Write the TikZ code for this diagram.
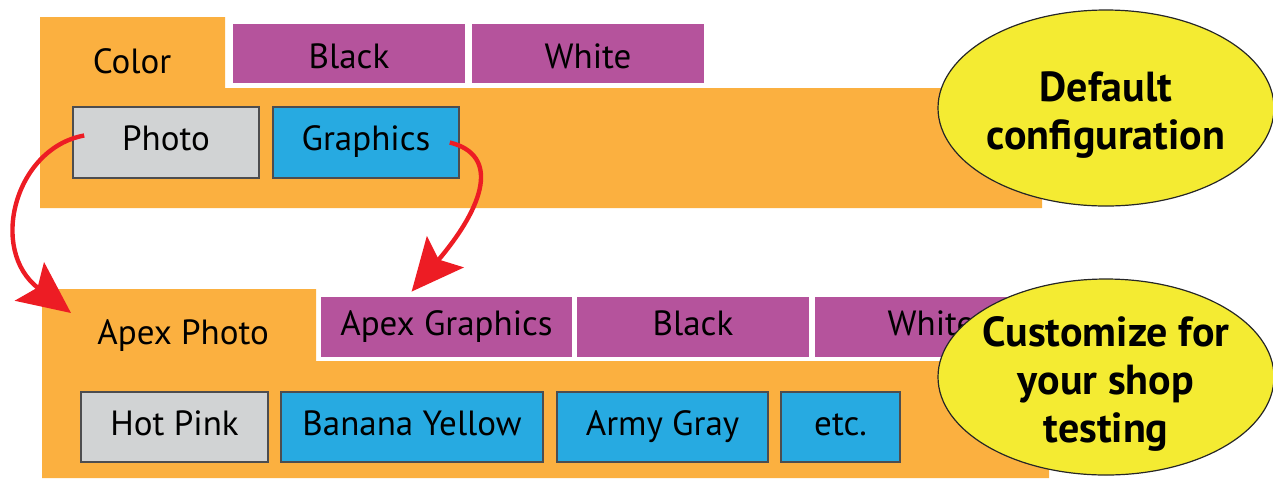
\documentclass[tikz,border=0pt]{standalone}
\usepackage{fontspec}
\setmainfont{PT Sans}
\usetikzlibrary{shapes.geometric, arrows.meta}
\definecolor{panelor}{HTML}{FBB040}
\definecolor{tabpl}{HTML}{B5539C}
\definecolor{optgray}{HTML}{D1D3D4}
\definecolor{optblue}{HTML}{27AAE1}
\definecolor{boxedge}{HTML}{4D4D4F}
\definecolor{noteyel}{HTML}{F4EB32}
\definecolor{linkred}{HTML}{ED1C24}

\begin{document}
\begin{tikzpicture}[x=0.5pt, y=-0.5pt,
  font=\fontsize{17.5}{20}\selectfont,
  lbl/.style={inner sep=0pt, text height=12pt, text depth=4pt},
  tab/.style={lbl, fill=tabpl, minimum width=116pt, minimum height=29.5pt},
  toptab/.style={tab, text height=16pt, text depth=1pt},
  opt/.style={lbl, draw=boxedge, line width=0.8pt, minimum height=35.5pt},
  note/.style={ellipse, draw=black!85, line width=0.6pt, fill=noteyel,
    minimum width=168pt, minimum height=98pt, inner xsep=-10pt, inner ysep=-6pt,
    align=center, font=\fontsize{21}{24}\bfseries\selectfont},
  link/.style={draw=linkred, line width=2.2pt,
    -{Stealth[length=26pt, width=24pt, inset=5pt]}}]
  \useasboundingbox (0,0) rectangle (1273,478);

  % default configuration
  \fill[panelor] (40,17) -- (225,17) -- (225,88) -- (1042,88)
    -- (1042,208) -- (40,208) -- cycle;
  \node[lbl] (color) at (132,65) {Color};
  \node[toptab] (black) at (349,53.5) {Black};
  \node[toptab] (white) at (588,53.5) {White};
  \node[opt, fill=optgray, minimum width=93pt] (photo) at (166,142.5) {Photo};
  \node[opt, fill=optblue, minimum width=93pt] (graphics) at (366,142.5) {Graphics};
  \node[note] (default) at (1106,108) {\rule{0pt}{22pt}Default\\configuration};

  % customized for the shop
  \fill[panelor] (42,289) -- (316,289) -- (316,361) -- (1049,361)
    -- (1049,478) -- (42,478) -- cycle;
  \node[lbl, anchor=west] (aphoto) at (97,336) {Apex Photo};
  \node[tab, minimum width=125.5pt, minimum height=30pt] (agraphics) at (446.5,327) {Apex Graphics};
  \node[tab, minimum height=30pt] (black2) at (693,327) {Black};
  \node[tab, minimum height=30pt] (white2) at (931,327) {White};
  \node[opt, fill=optgray, minimum width=93.5pt, minimum height=35pt] (hotpink) at (174.5,427) {Hot Pink};
  \node[opt, fill=optblue, minimum width=131pt, minimum height=35pt] (banana) at (412,427) {Banana Yellow};
  \node[opt, fill=optblue, minimum width=105.5pt, minimum height=35pt] (army) at (662.5,427) {Army Gray};
  \node[opt, fill=optblue, minimum width=59.5pt, minimum height=35pt] (etc) at (840.5,427) {etc.};
  \node[note] (custom) at (1106,377) {\rule{0pt}{22pt}Customize for\\your shop\\testing};

  \draw[link] ([shift={(12,-7)}]photo.west) .. controls (15,148) and (-12,250)
    .. ([shift={(-26,-23)}]aphoto.west);
  \draw[link] ([shift={(-10,0)}]graphics.east) .. controls (500,155) and (485,205)
    .. ([shift={(91,-5)}]agraphics.north west);
\end{tikzpicture}
\end{document}
